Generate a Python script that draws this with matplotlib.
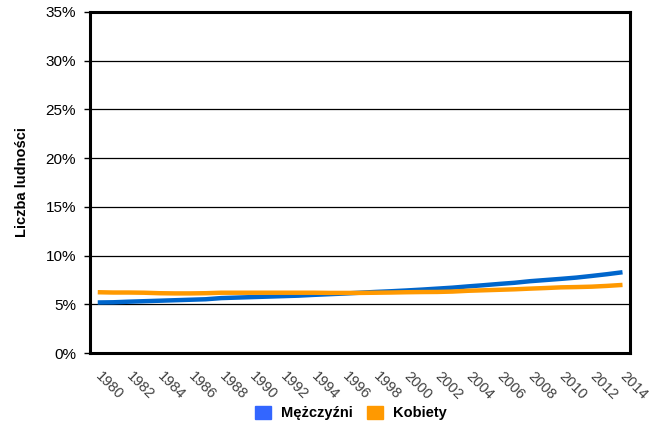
import matplotlib
matplotlib.use("Agg")
import matplotlib.pyplot as plt
from matplotlib.ticker import FuncFormatter
from matplotlib.patches import Patch

years = list(range(1980, 2015))
men = [5.20, 5.22, 5.28, 5.33, 5.38, 5.43, 5.48, 5.53, 5.65, 5.70,
       5.75, 5.80, 5.85, 5.90, 5.98, 6.05, 6.12, 6.20, 6.28, 6.35,
       6.43, 6.52, 6.62, 6.72, 6.85, 6.97, 7.10, 7.22, 7.38, 7.50,
       7.62, 7.75, 7.92, 8.10, 8.30]
women = [6.25, 6.22, 6.22, 6.20, 6.15, 6.13, 6.13, 6.15, 6.20, 6.20,
         6.20, 6.20, 6.20, 6.20, 6.20, 6.18, 6.18, 6.18, 6.20, 6.22,
         6.25, 6.27, 6.28, 6.32, 6.40, 6.45, 6.50, 6.55, 6.62, 6.68,
         6.75, 6.78, 6.82, 6.90, 7.00]
series_names = ["Mężczyźni", "Kobiety"]
y_ticks = [0, 5, 10, 15, 20, 25, 30, 35]

plt.rcParams['font.family'] = ['Liberation Sans', 'DejaVu Sans']

fig = plt.figure(figsize=(6.62, 4.25), dpi=100)
ax = fig.add_axes([0.136, 0.169, 0.816, 0.803])

ax.plot(years, men, color='#0066CC', lw=3.2, solid_capstyle='butt', zorder=3)
ax.plot(years, women, color='#FF9900', lw=3.2, solid_capstyle='butt', zorder=3)

ax.set_xlim(years[0] - 0.5, years[-1] + 0.5)
ax.set_ylim(0, 35)
ax.set_yticks(y_ticks)
ax.yaxis.set_major_formatter(FuncFormatter(lambda v, p: f"{v:.0f}%"))
ax.grid(axis='y', color='black', lw=0.9)
ax.set_axisbelow(True)

ax.set_xticks(years[::2])
ax.set_xticklabels([str(y) for y in years[::2]], rotation=-45,
                   rotation_mode='anchor', ha='left', va='center',
                   color='#404040', fontsize=10.5)
ax.tick_params(axis='x', length=0, pad=15)
ax.tick_params(axis='y', length=4, width=1, labelsize=11, pad=6)

for s in ax.spines.values():
    s.set_linewidth(2.2)
    s.set_color('black')

ax.set_ylabel("Liczba ludności", fontsize=10.5, fontweight='bold', labelpad=12)

handles = [Patch(color='#3366FF'), Patch(color='#FF9900')]
fig.legend(handles, series_names, loc='center', bbox_to_anchor=(0.53, 0.028),
           ncol=2, frameon=False, handlelength=1.1, handleheight=1.0,
           prop={'weight': 'bold', 'size': 10.5}, columnspacing=1.0, handletextpad=0.7)

fig.savefig("out.png", dpi=100)
